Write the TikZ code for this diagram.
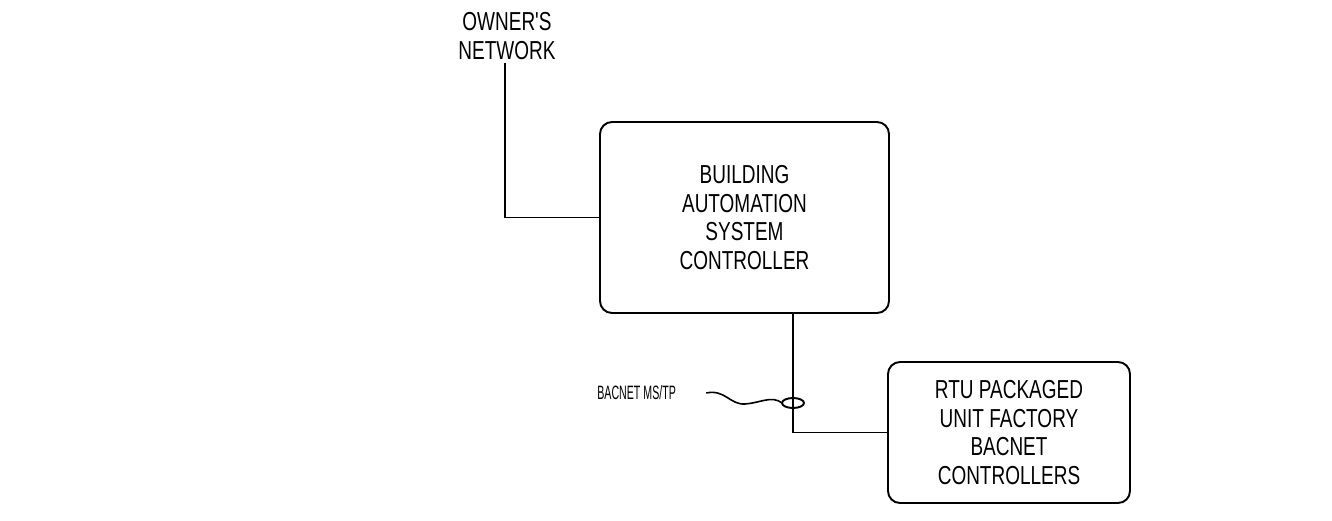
\documentclass[tikz,border=0pt]{standalone}
\usepackage{fontspec}
\usepackage{tikz}
\usetikzlibrary{positioning}
\newfontfamily\boxfont[FakeStretch=0.73]{Liberation Sans}
\newfontfamily\tagfont[FakeStretch=0.55]{Liberation Sans}
\definecolor{WireInk}{HTML}{000000}

\begin{document}
\begin{tikzpicture}[x=0.2mm, y=-0.2mm,
		unitbox/.style={draw=WireInk, line width=1.1pt, rounded corners=2.4mm,
			align=center, font=\boxfont\fontsize{14.8}{16.4}\selectfont},
		wire/.style={draw=WireInk, line width=1.1pt}]
				\useasboundingbox (0,0) rectangle (1332,520);

				% the two controllers
				\node[unitbox, minimum width=5.78cm, minimum height=3.82cm] (bas) at (744.5,217.5)
					{BUILDING\\AUTOMATION\\SYSTEM\\CONTROLLER};
				\node[unitbox, minimum width=4.84cm, minimum height=2.82cm] (rtu) at (1009,432.5)
					{RTU PACKAGED\\UNIT FACTORY\\BACNET\\CONTROLLERS};

				% owner's network feed
				\node[align=center, inner sep=2pt, font=\boxfont\fontsize{14.8}{16.4}\selectfont] (owner) at (507,36)
					{OWNER'S\\NETWORK};
				\draw[wire] (owner.south -| 505,0) |- (bas.west);

				% bacnet trunk down to the packaged units
				\coordinate (drop) at (793,313);
				\coordinate (tie) at (793,403);
				\draw[wire] (drop) |- (rtu.west);
				\draw[wire] (tie) ellipse [x radius=11, y radius=5];

				% cable tag
				\node[anchor=west, inner sep=0pt, font=\tagfont\fontsize{11}{13}\selectfont] (bus) at (597,393)
					{BACNET MS/TP};
				\draw[wire, line width=0.9pt] ([xshift=6mm]bus.east) .. controls (725,389) and (730,405) .. (745,404)
					.. controls (760,403) and (772,395) .. ([xshift=-2.2mm]tie);
			\end{tikzpicture}
\end{document}
